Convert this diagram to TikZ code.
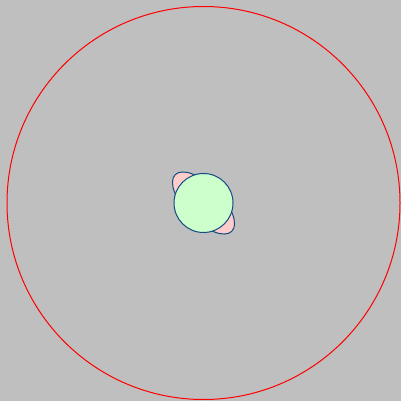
\documentclass[tikz,border=0pt]{standalone}
\begin{document}
\begin{tikzpicture}[x=1pt,y=-1pt,
  outer/.style={draw=red, line width=1pt},
  lobe/.style={draw={rgb,255:red,20;green,75;blue,130}, fill=red!20, line width=1pt},
  core/.style={draw={rgb,255:red,20;green,75;blue,130}, fill=green!20, line width=1pt}]
\fill[gray!50] (0,0) rectangle (401,401);
\useasboundingbox (0,0) rectangle (401,401);
\coordinate (c) at (203.5,203);
\draw[outer] (c) circle (196.5);
\draw[lobe, rotate around={-45:(c)}] (c) ellipse (40 and 18);
\draw[core] (c) circle (29.5);
\end{tikzpicture}
\end{document}
